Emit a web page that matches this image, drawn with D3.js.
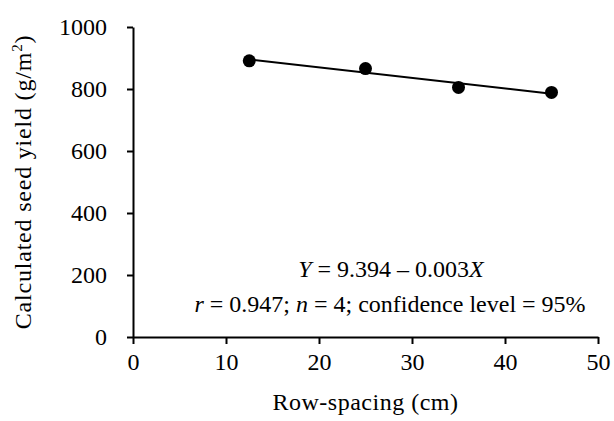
<!DOCTYPE html>
<html>
<head>
<meta charset="utf-8">
<script src="https://cdn.jsdelivr.net/npm/d3@7"></script>
<style>
  body { margin: 0; background: #fff; }
  svg text { font-family: "Liberation Serif", "DejaVu Serif", "Times New Roman", serif !important; fill: #000; }
</style>
</head>
<body>
<div id="chart"></div>
<script>
const spacing = [12.5, 25, 35, 45];
const seedYield = [891, 866, 805, 789];
const fitX = [12.5, 45];
const fitY = [895, 785];
const xTicks = [0, 10, 20, 30, 40, 50];
const yTicks = [0, 200, 400, 600, 800, 1000];

const width = 614;
const height = 421;
const margin = { top: 27, right: 16, bottom: 84, left: 133 };
const serif = "'Liberation Serif', 'DejaVu Serif', serif";

const svg = d3.select("#chart")
  .append("svg")
  .attr("width", width)
  .attr("height", height)
  .attr("font-family", serif);

const x = d3.scaleLinear().domain([0, 50]).range([margin.left, width - margin.right]);
const y = d3.scaleLinear().domain([0, 1000]).range([height - margin.bottom, margin.top]);

const fontSize = 24;

// axes
const xAxis = svg.append("g")
  .attr("transform", `translate(0, ${y(0)})`)
  .call(d3.axisBottom(x).tickValues(xTicks).tickFormat(d3.format("d"))
    .tickSize(7).tickSizeOuter(0).tickPadding(9));
const yAxis = svg.append("g")
  .attr("transform", `translate(${x(0)}, 0)`)
  .call(d3.axisLeft(y).tickValues(yTicks).tickFormat(d3.format("d"))
    .tickSize(6).tickSizeOuter(0).tickPadding(20));

[xAxis, yAxis].forEach(g => {
  g.attr("font-family", serif).attr("font-size", fontSize);
  g.select(".domain").attr("stroke", "#000").attr("stroke-width", 2);
  g.selectAll(".tick line").attr("stroke", "#000").attr("stroke-width", 2);
  g.selectAll(".tick text").attr("fill", "#000");
});

// regression line
svg.append("line")
  .attr("x1", x(fitX[0])).attr("y1", y(fitY[0]))
  .attr("x2", x(fitX[1])).attr("y2", y(fitY[1]))
  .attr("stroke", "#000")
  .attr("stroke-width", 2);

// points
svg.selectAll(".pt")
  .data(spacing.map((s, i) => [s, seedYield[i]]))
  .enter()
  .append("circle")
  .attr("class", "pt")
  .attr("cx", d => x(d[0]))
  .attr("cy", d => y(d[1]))
  .attr("r", 6.5)
  .attr("fill", "#000");

// equation
const eq1 = svg.append("text")
  .attr("x", 391).attr("y", 277)
  .attr("text-anchor", "middle")
  .attr("font-size", fontSize);
eq1.append("tspan").attr("font-style", "italic").text("Y");
eq1.append("tspan").text(" = 9.394 \u2013 0.003");
eq1.append("tspan").attr("font-style", "italic").text("X");

const eq2 = svg.append("text")
  .attr("x", 390).attr("y", 312)
  .attr("text-anchor", "middle")
  .attr("font-size", fontSize);
eq2.append("tspan").attr("font-style", "italic").text("r");
eq2.append("tspan").text(" = 0.947; ");
eq2.append("tspan").attr("font-style", "italic").text("n");
eq2.append("tspan").text(" = 4; confidence level = 95%");

// axis titles
svg.append("text")
  .attr("x", (x(0) + x(50)) / 2)
  .attr("y", 410)
  .attr("text-anchor", "middle")
  .attr("font-size", fontSize)
  .attr("letter-spacing", 0.5)
  .text("Row-spacing (cm)");

const yTitle = svg.append("text")
  .attr("transform", `translate(31, ${(y(0) + y(1000)) / 2}) rotate(-90)`)
  .attr("text-anchor", "middle")
  .attr("font-size", fontSize)
  .attr("letter-spacing", 0.8);
yTitle.append("tspan").text("Calculated seed yield (g/m");
yTitle.append("tspan").attr("dy", -9).attr("font-size", 15).text("2");
yTitle.append("tspan").attr("dy", 9).text(")");
</script>
</body>
</html>
